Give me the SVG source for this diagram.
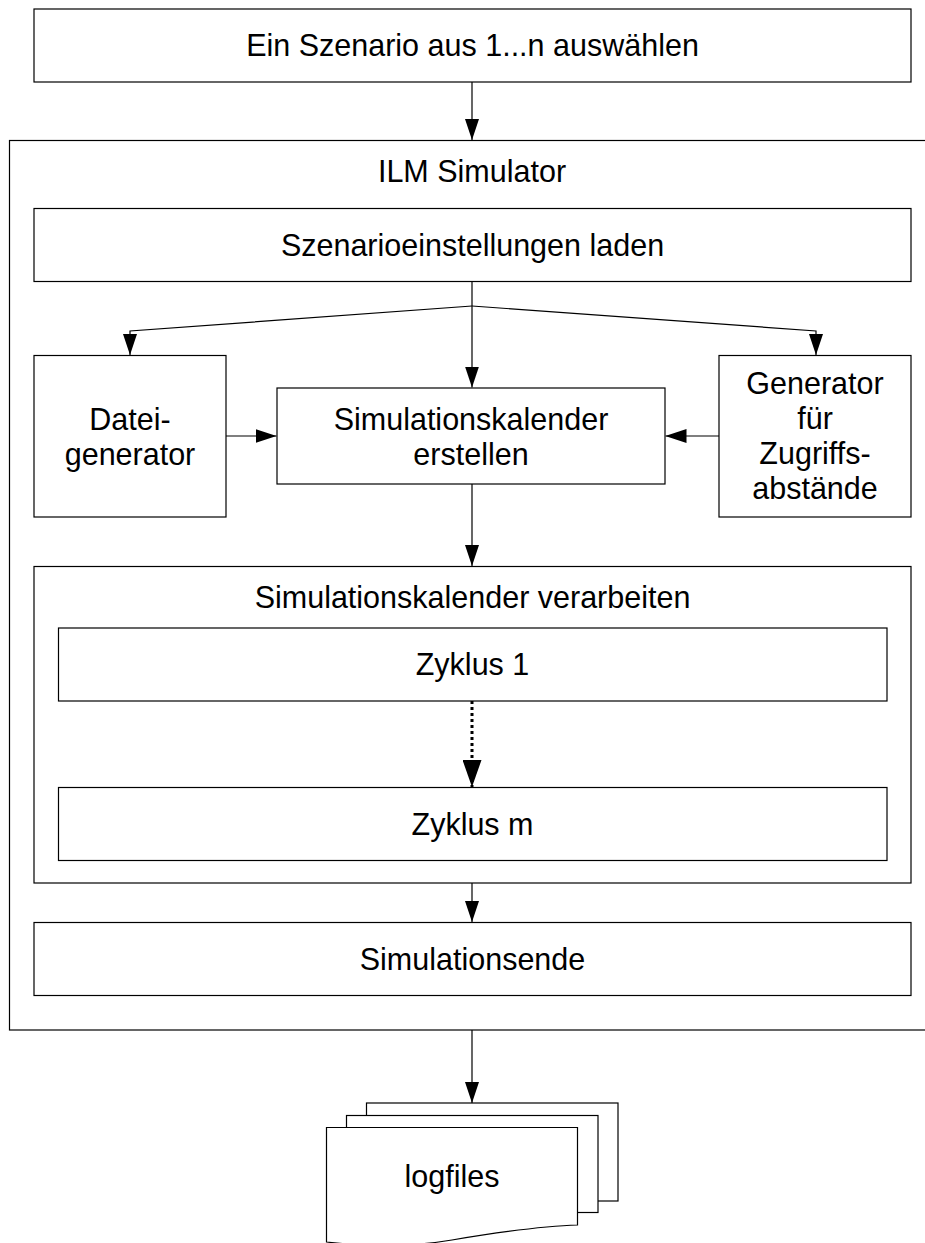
<svg xmlns="http://www.w3.org/2000/svg" width="925" height="1243" viewBox="0 0 925 1243">
<style>
.box{fill:#fff;stroke:#000;stroke-width:1.2}
.t{font-family:"Liberation Sans",Arial,sans-serif;font-size:30.5px;fill:#000;text-anchor:middle}
.c{fill:none;stroke:#000;stroke-width:1.2}
.d{fill:none;stroke:#000;stroke-width:3;stroke-dasharray:3,3}
</style>
<defs>
<marker id="ah" markerUnits="userSpaceOnUse" markerWidth="21" markerHeight="14" viewBox="0 0 21 14" refX="21" refY="7" orient="auto"><path d="M0,0L21,7L0,14z" fill="#000"/></marker>
<marker id="ahb" markerUnits="userSpaceOnUse" markerWidth="27" markerHeight="19" viewBox="0 0 27 19" refX="27" refY="9.5" orient="auto"><path d="M0,0L27,9.5L0,19z" fill="#000"/></marker>
</defs>
<rect width="925" height="1243" fill="#fff"/>
<g id="ilm">
<rect class="box" x="9.5" y="140.5" width="940" height="889.5"/>
<text class="t" x="472" y="182">ILM Simulator</text>
</g>
<g id="select">
<rect class="box" x="34" y="9" width="877" height="73"/>
<text class="t" x="472.5" y="56">Ein Szenario aus 1...n auswählen</text>
</g>
<g id="load">
<rect class="box" x="34" y="208.5" width="877" height="73"/>
<text class="t" x="472.5" y="256">Szenarioeinstellungen laden</text>
</g>
<g id="dategen">
<rect class="box" x="34" y="355.5" width="192" height="161.5"/>
<text class="t" x="130" y="430">Datei-</text>
<text class="t" x="130" y="465">generator</text>
</g>
<g id="create">
<rect class="box" x="277" y="388" width="388" height="96"/>
<text class="t" x="471" y="430">Simulationskalender</text>
<text class="t" x="471" y="465">erstellen</text>
</g>
<g id="accessgen">
<rect class="box" x="719" y="355.5" width="192" height="161.5"/>
<text class="t" x="815" y="394">Generator</text>
<text class="t" x="815" y="429">für</text>
<text class="t" x="815" y="464">Zugriffs-</text>
<text class="t" x="815" y="499">abstände</text>
</g>
<g id="process">
<rect class="box" x="34" y="566.5" width="877" height="316.5"/>
<text class="t" x="472.5" y="608">Simulationskalender verarbeiten</text>
</g>
<g id="cycle1">
<rect class="box" x="58.5" y="628" width="828.5" height="73"/>
<text class="t" x="472.5" y="675">Zyklus 1</text>
</g>
<g id="cyclem">
<rect class="box" x="58.5" y="787.5" width="828.5" height="73"/>
<text class="t" x="472.5" y="835">Zyklus m</text>
</g>
<g id="end">
<rect class="box" x="34" y="922.5" width="877" height="73"/>
<text class="t" x="472.5" y="970">Simulationsende</text>
</g>
<g id="logfiles">
<rect class="box" x="366.5" y="1103" width="251.5" height="98"/>
<rect class="box" x="346.5" y="1115.5" width="251.5" height="97"/>
<path class="box" d="M326.5,1127.5H577.5V1225C540,1226 500,1232 452,1240C410,1247 370,1247 326.5,1242Z"/>
<text class="t" x="452" y="1187">logfiles</text>
</g>
<g id="connectors">
<path class="c" d="M472,82V140" marker-end="url(#ah)"/>
<path class="c" d="M472,281.5V387.5" marker-end="url(#ah)"/>
<path class="c" d="M472,306L130,331V355" marker-end="url(#ah)"/>
<path class="c" d="M472,306L816,331V355" marker-end="url(#ah)"/>
<path class="c" d="M226,436H276.5" marker-end="url(#ah)"/>
<path class="c" d="M719,436H665.5" marker-end="url(#ah)"/>
<path class="c" d="M472,484V566" marker-end="url(#ah)"/>
<path class="d" d="M472,701V787" marker-end="url(#ahb)"/>
<path class="c" d="M472,883V922" marker-end="url(#ah)"/>
<path class="c" d="M472,1030V1103" marker-end="url(#ah)"/>
</g>
</svg>
